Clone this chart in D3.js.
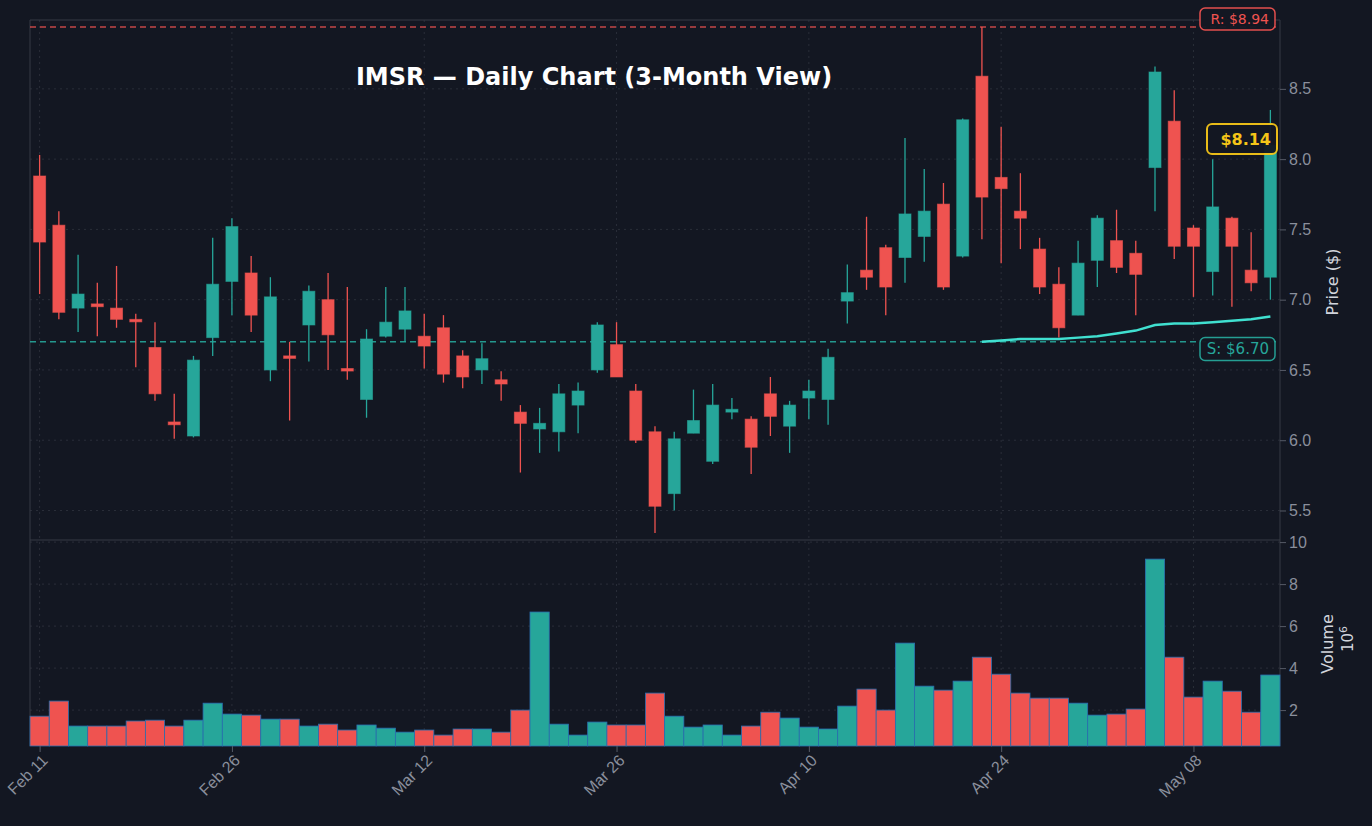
<!DOCTYPE html>
<html><head><meta charset="utf-8">
<script src="https://cdn.jsdelivr.net/npm/d3@7"></script>
<style>body{margin:0;background:#131722;}svg{display:block;font-family:"DejaVu Sans",sans-serif;}</style>
</head><body><svg id="c" width="1372" height="826"></svg>
<script>
const opens  = [7.88,7.53,6.94,6.97,6.94,6.86,6.66,6.13,6.03,6.73,7.13,7.19,6.50,6.60,6.82,7.00,6.51,6.29,6.74,6.79,6.74,6.80,6.60,6.50,6.43,6.20,6.08,6.06,6.25,6.50,6.68,6.35,6.06,5.62,6.05,5.85,6.20,6.15,6.33,6.10,6.30,6.29,6.99,7.21,7.37,7.30,7.45,7.68,7.31,8.59,7.87,7.63,7.36,7.11,6.89,7.28,7.42,7.33,7.94,8.27,7.51,7.20,7.58,7.21,7.16];
const highs  = [8.03,7.63,7.32,7.12,7.24,6.90,6.84,6.33,6.60,7.44,7.58,7.31,7.16,6.70,7.10,7.19,7.09,6.79,7.09,7.09,6.90,6.89,6.64,6.69,6.49,6.25,6.23,6.40,6.41,6.84,6.84,6.40,6.10,6.06,6.36,6.40,6.30,6.17,6.45,6.28,6.43,6.65,7.25,7.59,7.39,8.15,7.93,7.83,8.29,8.94,8.23,7.90,7.44,7.23,7.42,7.60,7.64,7.42,8.66,8.49,7.53,8.00,7.59,7.48,8.35];
const lows   = [7.04,6.86,6.77,6.74,6.80,6.52,6.28,6.01,6.02,6.60,6.89,6.77,6.42,6.14,6.56,6.50,6.43,6.16,6.73,6.70,6.51,6.41,6.37,6.40,6.28,5.77,5.91,5.92,6.05,6.48,6.45,5.98,5.34,5.50,6.05,5.83,6.15,5.76,6.03,5.91,6.15,6.11,6.83,7.07,6.89,7.12,7.27,7.07,7.30,7.43,7.26,7.36,7.04,6.73,6.89,7.09,7.19,6.89,7.63,7.29,7.02,7.03,6.95,7.06,7.00];
const closes = [7.41,6.91,7.04,6.95,6.86,6.85,6.33,6.11,6.57,7.11,7.52,6.89,7.02,6.59,7.06,6.75,6.50,6.72,6.84,6.92,6.67,6.47,6.45,6.58,6.40,6.12,6.12,6.33,6.35,6.82,6.45,6.00,5.53,6.01,6.14,6.25,6.22,5.95,6.17,6.25,6.35,6.59,7.05,7.16,7.09,7.61,7.63,7.09,8.28,7.73,7.79,7.58,7.09,6.80,7.26,7.58,7.23,7.18,8.62,7.38,7.38,7.66,7.38,7.12,8.10];
const volumes = [1.71,2.43,1.24,1.24,1.24,1.48,1.52,1.24,1.52,2.33,1.81,1.76,1.57,1.57,1.24,1.33,1.05,1.29,1.14,0.95,1.05,0.81,1.10,1.10,0.95,2.0,6.67,1.33,0.81,1.43,1.29,1.29,2.81,1.71,1.19,1.29,0.81,1.24,1.90,1.62,1.19,1.10,2.19,3.0,2.0,5.19,3.14,2.95,3.38,4.52,3.71,2.81,2.57,2.57,2.33,1.76,1.81,2.05,9.19,4.52,2.62,3.38,2.90,1.90,3.67];
const maStart = 49;
const maValues = [6.70,6.71,6.72,6.72,6.72,6.73,6.74,6.76,6.78,6.82,6.83,6.83,6.84,6.85,6.86,6.88];
const tickIdx = [0,10,20,30,40,50,60];
const tickLabels = ["Feb 11","Feb 26","Mar 12","Mar 26","Apr 10","Apr 24","May 08"];
const priceTicks = [5.5,6.0,6.5,7.0,7.5,8.0,8.5];
const volTicks = [2,4,6,8,10];
const resistance = 8.94, support = 6.70, lastPrice = 8.14;

const UP="#26a69a", DN="#ef5350", GRID="#2a2e39", TXT="#8a8f9c";
const svg=d3.select("#c");
const L=30,R=1280,PT=20,PB=540,VT=540,VB=746;
const n=opens.length;
const x=d3.scaleLinear().domain([-0.5,n-0.5]).range([L,R]);
const y=d3.scaleLinear().domain([5.29,8.99]).range([PB,PT]);
const yv=d3.scaleLinear().domain([0.29,10.1]).range([VB,VT]);
const step=x(1)-x(0);

svg.append("rect").attr("width",1372).attr("height",826).attr("fill","#131722");
const g=svg.append("g");
priceTicks.forEach(t=>g.append("line").attr("x1",L).attr("x2",R).attr("y1",y(t)).attr("y2",y(t)).attr("stroke",GRID).attr("stroke-dasharray","2,4"));
volTicks.forEach(t=>g.append("line").attr("x1",L).attr("x2",R).attr("y1",yv(t)).attr("y2",yv(t)).attr("stroke",GRID).attr("stroke-dasharray","2,4"));
tickIdx.forEach(i=>g.append("line").attr("x1",x(i)).attr("x2",x(i)).attr("y1",PT).attr("y2",VB).attr("stroke",GRID).attr("stroke-dasharray","2,4"));
svg.append("line").attr("x1",L).attr("x2",L).attr("y1",PT).attr("y2",VB).attr("stroke","#363a45");
svg.append("line").attr("x1",R).attr("x2",R).attr("y1",PT).attr("y2",VB).attr("stroke","#363a45");
svg.append("line").attr("x1",L).attr("x2",R).attr("y1",PB).attr("y2",PB).attr("stroke","#363a45");
svg.append("line").attr("x1",L).attr("x2",R).attr("y1",PT).attr("y2",PT).attr("stroke","#363a45");

svg.append("g").selectAll("rect").data(volumes).join("rect")
 .attr("x",(d,i)=>x(i)-step/2).attr("width",step)
 .attr("y",d=>yv(d)).attr("height",d=>VB-yv(d))
 .attr("fill",(d,i)=>closes[i]>=opens[i]?UP:DN).attr("stroke","#2a6fb0").attr("stroke-width",0.8);

svg.append("line").attr("x1",L).attr("x2",R).attr("y1",y(resistance)).attr("y2",y(resistance)).attr("stroke",DN).attr("stroke-width",1.5).attr("stroke-dasharray","6,4").attr("opacity",0.8);
svg.append("line").attr("x1",L).attr("x2",R).attr("y1",y(support)).attr("y2",y(support)).attr("stroke",UP).attr("stroke-width",1.5).attr("stroke-dasharray","6,4").attr("opacity",0.9);

const cg=svg.append("g");
opens.forEach((o,i)=>{
  const c=closes[i], col=c>=o?UP:DN, cx=x(i);
  cg.append("line").attr("x1",cx).attr("x2",cx).attr("y1",y(highs[i])).attr("y2",y(lows[i])).attr("stroke",col).attr("stroke-width",1.3);
  const top=y(Math.max(o,c)), h=Math.max(2.5,Math.abs(y(o)-y(c)));
  cg.append("rect").attr("x",cx-6).attr("width",12).attr("y",top).attr("height",h).attr("fill",col).attr("stroke",col).attr("stroke-opacity",0.6);
});
svg.append("path").datum(maValues).attr("fill","none").attr("stroke","#40e0d0").attr("stroke-width",2.5)
 .attr("d",d3.line().x((d,i)=>x(maStart+i)).y(d=>y(d)));

const ay=svg.append("g").attr("transform",`translate(${R},0)`).call(d3.axisRight(y).tickValues(priceTicks).tickFormat(d3.format(".1f")).tickSize(6));
const av=svg.append("g").attr("transform",`translate(${R},0)`).call(d3.axisRight(yv).tickValues(volTicks).tickFormat(d3.format("d")).tickSize(6));
const ax=svg.append("g").attr("transform",`translate(0,${VB})`).call(d3.axisBottom(x).tickValues(tickIdx).tickFormat((d,i)=>tickLabels[i]).tickSize(6));
[ay,av,ax].forEach(a=>{a.select(".domain").remove();a.selectAll("line").attr("stroke","#555a66");a.selectAll("text").attr("fill",TXT).attr("font-size",16);});
ax.selectAll("text").attr("text-anchor","end").attr("transform","rotate(-45)").attr("dx","-0.3em").attr("dy","0.5em");

svg.append("text").attr("transform","translate(1338,282) rotate(-90)").attr("text-anchor","middle").attr("fill","#d1d4dc").attr("font-size",16).text("Price ($)");
svg.append("text").attr("transform","translate(1333,644) rotate(-90)").attr("text-anchor","middle").attr("fill","#d1d4dc").attr("font-size",16).text("Volume");
const t6=svg.append("text").attr("transform","translate(1353,639) rotate(-90)").attr("text-anchor","middle").attr("fill","#d1d4dc").attr("font-size",15);
t6.append("tspan").text("10");t6.append("tspan").attr("dy",-6).attr("font-size",11).text("6");

svg.append("text").attr("x",594).attr("y",85).attr("text-anchor","middle").attr("fill","#ffffff").attr("font-size",24).attr("font-weight","bold").text("IMSR — Daily Chart (3-Month View)");

function box(xr,yc,w,h,txt,col,fs,bold,sw){
  svg.append("rect").attr("x",xr-w).attr("y",yc-h/2).attr("width",w).attr("height",h).attr("rx",5).attr("fill","#131722").attr("stroke",col).attr("stroke-width",sw).attr("opacity",0.95);
  svg.append("text").attr("x",xr-6).attr("y",yc).attr("dy","0.35em").attr("text-anchor","end").attr("fill",col).attr("font-size",fs).attr("font-weight",bold?"bold":"normal").text(txt);
}
box(1275,19,75,22,"R: $"+resistance.toFixed(2),DN,14,false,1.5);
box(1275,349,75,23,"S: $"+support.toFixed(2),UP,15,false,1.5);
box(1277,139,70,30,"$"+lastPrice.toFixed(2),"#f5c518",16,true,2);
</script></body></html>
